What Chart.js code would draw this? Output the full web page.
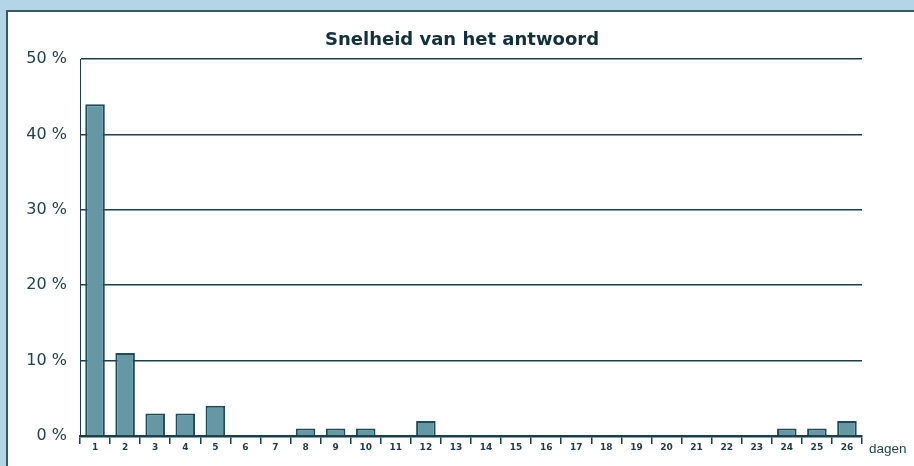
<!DOCTYPE html>
<html>
<head>
<meta charset="utf-8">
<script src="https://cdn.jsdelivr.net/npm/chart.js@4"></script>
<style>
  html, body { margin: 0; padding: 0; }
  body { width: 914px; height: 466px; background: #b3d5e6; position: relative; overflow: hidden; }
  #paneel { position: absolute; left: 6px; top: 10px; width: 920px; height: 470px; background: #fff; border: 2px solid #36596a; }
  #wrap { position: absolute; left: 0; top: 0; width: 914px; height: 466px; }
</style>
</head>
<body>
<div id="paneel"></div>
<div id="wrap"><canvas id="snelheid" width="914" height="466"></canvas></div>
<script>
const dagen = ["1","2","3","4","5","6","7","8","9","10","11","12","13","14","15","16","17","18","19","20","21","22","23","24","25","26"];
const percentages = [44, 11, 3, 3, 4, 0, 0, 1, 1, 1, 0, 2, 0, 0, 0, 0, 0, 0, 0, 0, 0, 0, 0, 1, 1, 2];
const yTicks = [0, 10, 20, 30, 40, 50];

const DONKER = "#173f4d";

// titel en "dagen" op vaste plek
const teksten = {
    id: "teksten",
    afterDraw(chart) {
        const ctx = chart.ctx;
        ctx.save();
        ctx.fillStyle = "#10303e";
        ctx.font = "bold 18px 'DejaVu Sans'";
        ctx.textAlign = "center";
        ctx.textBaseline = "middle";
        ctx.fillText("Snelheid van het antwoord", 462, 40);
        ctx.fillStyle = "#1f3f4e";
        ctx.font = "13.5px 'Liberation Sans'";
        ctx.textAlign = "left";
        ctx.fillText("dagen", 869, 449);
        ctx.restore();
    }
};

new Chart(document.getElementById("snelheid"), {
    type: "bar",
    data: {
        labels: dagen,
        datasets: [{
            label: "Snelheid",
            data: percentages,
            backgroundColor: "#6598a4",
            borderColor: "#1f4a58",
            borderWidth: 2,
            barPercentage: 0.65,
            categoryPercentage: 1
        }]
    },
    options: {
        responsive: false,
        animation: false,
        layout: { padding: { left: 0, right: 52, top: 59, bottom: 0 } },
        plugins: {
            legend: { display: false },
            tooltip: { enabled: false }
        },
        scales: {
            x: {
                afterFit: s => { s.height = 30; },
                grid: {
                    offset: true,
                    drawOnChartArea: false,
                    drawTicks: true,
                    tickLength: 8,
                    color: DONKER,
                    lineWidth: 1.5
                },
                border: { display: true, color: DONKER, width: 2.5 },
                ticks: {
                    color: "#1f3a4a",
                    font: { family: "'DejaVu Sans'", size: 9, weight: "bold" },
                    padding: -2,
                    maxRotation: 0,
                    autoSkip: false
                }
            },
            y: {
                min: 0,
                max: 50,
                afterFit: s => { s.width = 80; },
                afterBuildTicks: s => { s.ticks = yTicks.map(v => ({ value: v })); },
                grid: { color: DONKER, lineWidth: 1.6, drawTicks: false },
                border: { display: true, color: DONKER, width: 1 },
                ticks: {
                    color: "#1f4150",
                    font: { family: "'DejaVu Sans'", size: 16 },
                    padding: 13,
                    callback: v => v + " %"
                }
            }
        }
    },
    plugins: [teksten]
});
</script>
</body>
</html>
